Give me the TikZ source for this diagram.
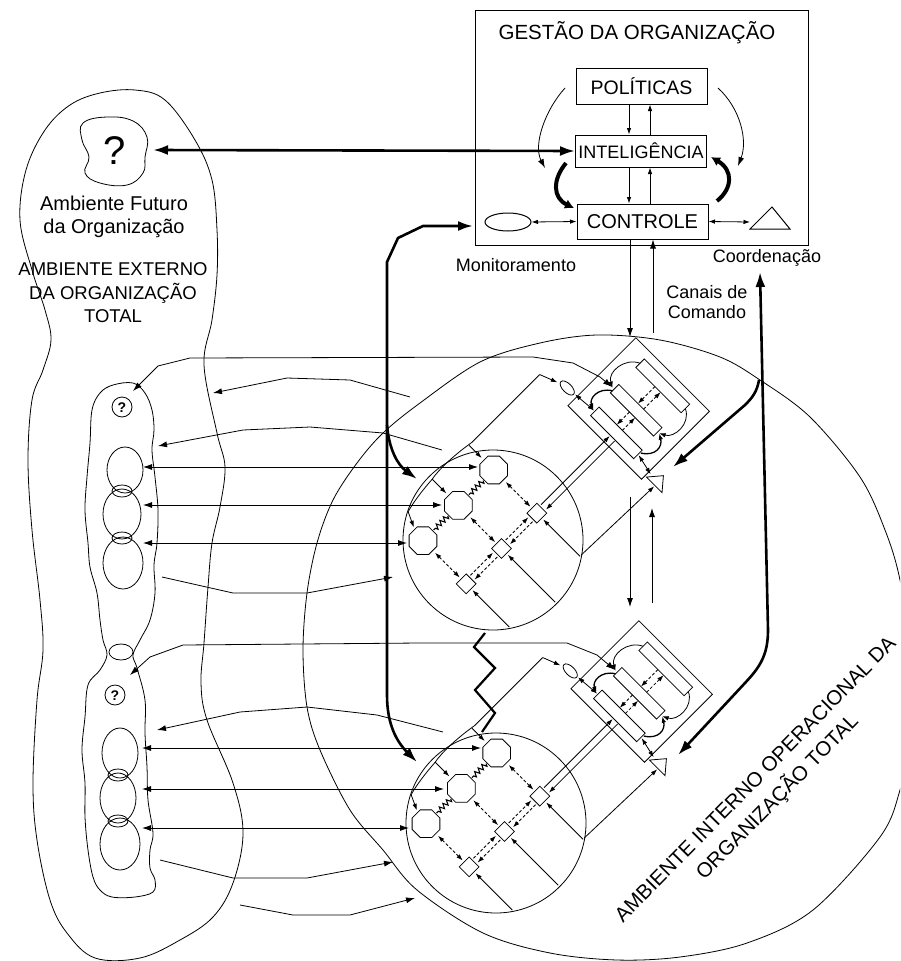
\documentclass[tikz,border=0pt]{standalone}
\usepackage{fontspec}
\setmainfont{Liberation Sans}
\usetikzlibrary{arrows.meta,decorations.pathmorphing,calc,shapes.geometric}
\tikzset{
  thinl/.style={line width=0.8pt, black},
  boxl/.style={line width=1pt, black},
  thk/.style={line width=2.6pt, black},
  ar/.style={-{Latex[length=9pt,width=6pt]}},
  bar/.style={{Latex[length=9pt,width=6pt]}-{Latex[length=9pt,width=6pt]}},
  sar/.style={-{Latex[length=6.5pt,width=4.5pt]}},
  sbar/.style={{Latex[length=6.5pt,width=4.5pt]}-{Latex[length=6.5pt,width=4.5pt]}},
  tar/.style={-{Latex[length=15pt,width=10pt]}},
  tbar/.style={{Latex[length=15pt,width=10pt]}-{Latex[length=15pt,width=10pt]}},
  dsh/.style={dash pattern=on 3pt off 2pt},
  zz/.style={line width=1.1pt, decorate, decoration={zigzag, amplitude=2.5pt, segment length=5pt}},
  lbl/.style={font=\fontsize{18}{20}\selectfont, inner sep=0pt},
  boxtxt/.style={draw, line width=1pt, minimum width=131pt, inner sep=0pt},
}
\newcommand{\octg}[2]{\draw[thinl,shift={(#1,#2)}] (22.5:15)--(67.5:15)--(112.5:15)--(157.5:15)--(202.5:15)--(247.5:15)--(292.5:15)--(337.5:15)--cycle;}
\newcommand{\rb}[4]{({#1},{#2}) -- ({#3},{#2}) -- ({#3},{#4}) -- ({#1},{#4}) -- cycle}
\newcommand{\opunit}[2]{%
\begin{scope}[shift={(#1,#2)}, rotate=45]
  \draw[thinl] (0,0) circle [radius=90];
  \octg{50}{-49}\octg{0}{-49}\octg{-50}{-49}
  \draw[zz] (35,-49) -- (15,-49);
  \draw[zz] (-15,-49) -- (-35,-49);
  \foreach \u/\e in {50/73,0/88,-50/73}{
    \draw[thinl] \rb{\u-7}{5}{\u+7}{19};
    \draw[thinl,dsh,sbar] (\u,-32) -- (\u,3);
    \draw[thinl,sar] (\u,\e) -- (\u,21);
  }
  \draw[thinl,dsh,sar] (-41,9) -- (-9,9);
  \draw[thinl,dsh,sar] (-9,15) -- (-41,15);
  \draw[thinl,dsh,sar] (9,9) -- (41,9);
  \draw[thinl,dsh,sar] (41,15) -- (9,15);
  \draw[thinl,sar] (59,9) -- (156,9);
  \draw[thinl,sar] (156,16) -- (59,16);
  % monitoring channel and inner arc
  \draw[thinl] (150,-84) -- (54,-84) .. controls (30,-88) and (10,-88) .. (0,-86) .. controls (-15,-85) and (-30,-83) .. (-40,-80);
  \draw[thinl,sar] (150,-84) -- (157,-66);
  \draw[thinl,sar] (50,-84) -- (50,-66);
  \draw[thinl,sar] (0,-86) -- (0,-66);
  \draw[thinl,sar] (-40,-80) -- (-47,-65);
  % management
  \draw[thinl] \rb{148}{-42}{244}{62};
  \draw[thinl] \rb{223}{-21}{235}{43};
  \draw[thinl] \rb{187}{-21}{199}{40};
  \draw[thinl] \rb{157}{-19}{169}{42};
  \draw[thinl,dsh,sar] (223,6) -- (199,6);
  \draw[thinl,dsh,sar] (199,14) -- (223,14);
  \draw[thinl,dsh,sar] (187,6) -- (169,6);
  \draw[thinl,dsh,sar] (169,14) -- (187,14);
  \draw[thinl,sar] (229,-21) .. controls (222,-36) and (200,-38) .. (192,-23);
  \draw[line width=1.3pt,sar] (190,-21) .. controls (182,-34) and (168,-32) .. (163,-21);
  \draw[thinl,sar] (229,43) .. controls (222,58) and (200,56) .. (193,42);
  \draw[line width=1.3pt,sar] (166,43) .. controls (174,56) and (186,54) .. (193,42);
  \draw[thinl] (160,-55) ellipse [x radius=4.5, y radius=9];
  \draw[thinl,sbar] (161,-45) -- (163,-20);
  \draw[thinl] (153,64) -- (153,86) -- (166,75) -- cycle;
  \draw[thinl,sbar] (163,43) -- (158,65);
  \draw[thinl,sar] (52,73) -- (152,76);
\end{scope}}

\begin{document}
\begin{tikzpicture}[x=1pt,y=-1pt]
\useasboundingbox (0,0) rectangle (900,961);
\clip (0,0) rectangle (900,961);
\fill[white] (0,0) rectangle (900,961);

% ---------- management box ----------
\draw[boxl] (475,10) rectangle (808,245);
\node[inner sep=0pt, font=\fontsize{20.5}{22}\selectfont] (title) at (637,33) {GESTÃO DA ORGANIZAÇÃO};
\node[boxtxt, minimum height=36pt, font=\fontsize{19.5}{21}\selectfont] (pol) at (641.5,86) {POLÍTICAS};
\node[boxtxt, minimum height=32pt, font=\fontsize{18}{20}\selectfont] (int) at (641,151) {INTELIGÊNCIA};
\node[boxtxt, minimum height=35pt, font=\fontsize{20}{22}\selectfont] (con) at (642.5,221.5) {CONTROLE};
\draw[thinl,sar] ($(pol.south)+(-12.5,0)$) -- ($(int.north)+(-12,0)$);
\draw[thinl,sar] ($(int.north)+(9,0)$) -- ($(pol.south)+(8.5,0)$);
\draw[thinl,sar] ($(int.south)+(-12,0)$) -- ($(con.north)+(-13.5,0)$);
\draw[thinl,sar] ($(con.north)+(7.5,0)$) -- ($(int.south)+(9,0)$);
\node[draw, boxl, ellipse, minimum width=46pt, minimum height=18pt, inner sep=0pt] (mon) at (508,222) {};
\draw[boxl] (750,229) -- (790,229) -- (772,207) -- cycle;
\coordinate (tri) at (750,222);
\draw[thinl,sbar] (mon.east) -- (con.west);
\draw[thinl,sbar] (con.east) -- (tri);
\draw[thinl,ar] (565,88) .. controls (545,110) and (533,145) .. (545,168);
\draw[thinl,ar] (718,88) .. controls (740,108) and (748,140) .. (738,166);
\draw[line width=4pt, -{Latex[length=9pt,width=10pt]}] (566,163) .. controls (552,180) and (553,198) .. (574,208);
\draw[line width=4pt, -{Latex[length=9pt,width=10pt]}] (717,201) .. controls (733,188) and (733,170) .. (711,157);

\node[lbl] (monl) at (516,265) {Monitoramento};
\node[lbl] (coordl) at (767,258) {Coordenação};
\node[lbl, align=center] (canl) at (707,302) {Canais de\\Comando};

% ---------- external environment ----------
\draw[thinl] plot[smooth cycle, tension=0.6] coordinates {(135,90) (165,100) (195,140) (212,180) (217,230) (217,275) (212,320) (204,365) (217,433) (225,467) (220,507) (212,543) (208,587) (204,643) (201,683) (207,720) (233,783) (243,833) (233,883) (213,917) (180,940) (140,958) (95,958) (67,933) (50,900) (37,840) (33,783) (37,700) (43,650) (40,600) (32,530) (28,460) (32,400) (43,370) (51,340) (45,310) (32,270) (20,220) (26,170) (45,130) (70,105) (100,93)};
\draw[thinl] plot[smooth cycle, tension=0.7] coordinates {(83,123) (107,117) (133,121) (147,137) (145,157) (143,173) (127,185) (100,183) (85,173) (89,157) (82,140)};
\node[inner sep=0pt, font=\fontsize{40}{40}\selectfont] (fut) at (115,151) {?};
\coordinate (futr) at (153,150);
\draw[thk,tbar] (futr) -- (int.west);
\node[inner sep=0pt, align=center, font=\fontsize{20}{23}\selectfont] (afut) at (114,217) {Ambiente Futuro\\da Organização};
\node[inner sep=0pt, align=center, font=\fontsize{18.5}{23.5}\selectfont] (aext) at (113,293) {AMBIENTE EXTERNO\\DA ORGANIZAÇÃO\\TOTAL};

% inner environment blob (two parts)
\draw[thinl] plot[smooth cycle, tension=0.6] coordinates {(113,385) (133,383) (145,393) (152,410) (154,430) (152,450) (155,477) (158,510) (157,543) (154,565) (155,593) (150,620) (140,640) (133,655) (137,668) (145,700) (145,733) (147,767) (148,800) (153,833) (150,850) (150,868) (155,880) (153,892) (135,897) (112,897) (100,890) (93,877) (88,850) (85,817) (85,783) (82,750) (85,717) (88,685) (100,670) (107,655) (103,640) (100,620) (97,593) (90,567) (88,543) (85,510) (87,477) (90,443) (92,410) (100,393)};
\draw[thinl] (121,652) ellipse [x radius=12, y radius=8];
\draw[thinl] (122,407) circle [radius=10];
\node[inner sep=0pt, font=\fontsize{14}{14}\selectfont\bfseries] (q1) at (122,407.5) {?};
\draw[thinl] (115,695) circle [radius=10];
\node[inner sep=0pt, font=\fontsize{14}{14}\selectfont\bfseries] (q2) at (115,695.5) {?};
\foreach \x/\y/\a/\b in {125/470/18/23, 122/514/19/25, 123/563/20/26, 120/753/18/25, 118/798/18/25, 120/844/20/26}{
  \draw[thinl] (\x,\y) ellipse [x radius=\a, y radius=\b];
}
\foreach \x/\y in {122/491, 122/538, 118/775, 118/821}{
  \draw[thinl] (\x,\y) ellipse [x radius=10, y radius=6];
}

% ---------- internal operational environment ----------
\draw[thinl] plot[smooth cycle, tension=0.55] coordinates {(303,650) (307,593) (317,543) (333,500) (357,463) (383,433) (420,403) (480,362) (540,343) (597,335) (660,340) (720,357) (760,380) (810,417) (860,477) (885,530) (900,580) (912,660) (910,740) (900,790) (880,837) (813,910) (747,943) (680,957) (617,960) (550,953) (483,933) (417,890) (383,850) (350,810) (320,750) (307,707)};

\opunit{493}{540}
\opunit{496}{823}

% command channels
\draw[thinl,ar] ($(con.south)+(-12.5,0)$) -- (630,337);
\draw[thinl,ar] (653,333) -- ($(con.south)+(10.5,0)$);
\draw[thinl,ar] (630,497) -- (630,607);
\draw[thinl,ar] (652,603) -- (652,508);

% links environment <-> operations (upper)
\draw[thinl,bar] (133,391) -- (158,366) -- (190,358) -- (533,357) -- (573,363) -- (600,377) -- (612,387);
\draw[thinl,ar] (410,397) -- (350,380) -- (287,378) -- (213,393);
\draw[thinl,ar] (442,450) -- (383,433) -- (310,427) -- (243,430) -- (158,446);
\draw[thinl,bar] (143,467) -- (478,467);
\draw[thinl,bar] (143,505) -- (442,505);
\draw[thinl,bar] (143,543) -- (407,543);
\draw[thinl,ar] (162,577) -- (233,593) -- (307,593) -- (393,577);

% links (lower)
\draw[thinl,bar] (130,675) -- (150,657) -- (183,645) -- (420,643) -- (567,643) -- (597,655) -- (615,670);
\draw[thinl,ar] (443,732) -- (377,715) -- (307,707) -- (240,712) -- (157,730);
\draw[thinl,bar] (142,748) -- (481,748);
\draw[thinl,bar] (142,789) -- (444,789);
\draw[thinl,bar] (142,828) -- (409,828);
\draw[thinl,ar] (160,860) -- (233,878) -- (307,878) -- (393,862);
\draw[thinl,ar] (240,905) -- (293,915) -- (350,915) -- (415,898);

% monitoring (thick)
\draw[thk,tbar] (417,762) .. controls (397,742) and (387,725) .. (387,695) -- (387,262) -- (398,238) -- (423,226) -- (473,226);
\draw[thk,tar] (387,425) .. controls (389,450) and (398,465) .. (417,479);
% coordination (thick)
\draw[thk,tbar] (678,755) -- (745,683) .. controls (760,667) and (768,655) .. (768,630) -- (760,272);
\draw[thk,tar] (759,380) .. controls (757,392) and (752,398) .. (745,405) -- (673,467);
% link between operations
\draw[line width=2.2pt] (485,633) -- (474,647) -- (495,668) -- (475,690) -- (495,713) -- (482,732);

% rotated labels
\node[rotate=45.5, inner sep=0pt, font=\fontsize{20.5}{22}\selectfont] (ai1) at (755,779) {AMBIENTE INTERNO OPERACIONAL DA};
\node[rotate=45.5, inner sep=0pt, font=\fontsize{20.5}{22}\selectfont] (ai2) at (777,797) {ORGANIZAÇÃO TOTAL};
\end{tikzpicture}
\end{document}
